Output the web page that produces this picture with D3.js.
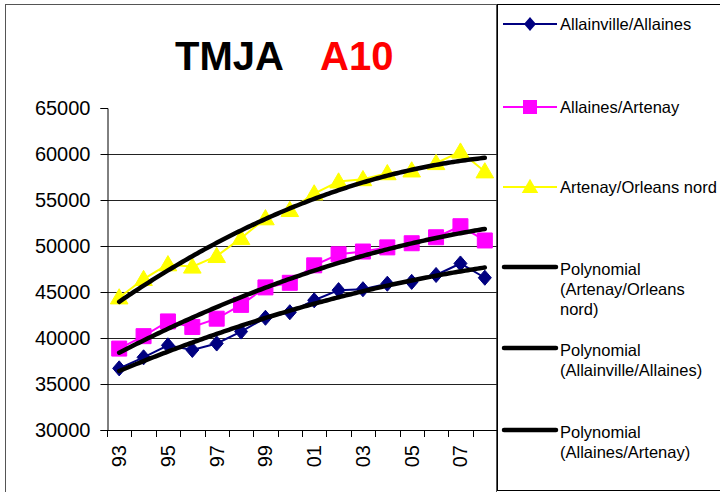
<!DOCTYPE html>
<html>
<head>
<meta charset="utf-8">
<script src="https://cdn.jsdelivr.net/npm/d3@7"></script>
<style>
  html, body { margin: 0; padding: 0; background: #fff; }
  svg { display: block; font-family: "Liberation Sans", Arial, sans-serif; }
</style>
</head>
<body>
<svg id="chart" width="720" height="492"></svg>
<script>
// Annual average daily traffic (TMJA) on the A10 motorway, by section
const years = ["93","94","95","96","97","98","99","00","01","02","03","04","05","06","07","08"];
const allainvilleAllaines = [36700,37900,39200,38700,39400,40700,42200,42800,44100,45200,45300,45900,46100,46850,48100,46550];
const allainesArtenay    = [38850,40200,41800,41200,42100,43600,45500,46000,47900,49100,49400,49850,50300,50950,52150,50600];
const artenayOrleans     = [44400,46400,48000,47750,48900,50850,53000,53900,55700,57000,57250,57900,58200,59000,60250,58100];
const yTicks = [30000,35000,40000,45000,50000,55000,60000,65000];

const series = [
  { name: "Allainville/Allaines", values: allainvilleAllaines, color: "#000080", marker: "diamond" },
  { name: "Allaines/Artenay",     values: allainesArtenay,     color: "#FF00FF", marker: "square" },
  { name: "Artenay/Orleans nord", values: artenayOrleans,      color: "#FFFF00", marker: "triangle" }
];
// trendlines are listed in this order in the legend
const trendOrder = [2, 0, 1];

// second-order least-squares fit over the category index
function quadFit(vals) {
  const n = vals.length;
  let sx=0,sx2=0,sx3=0,sx4=0,sy=0,sxy=0,sx2y=0;
  vals.forEach((y,i) => { const x=i; sx+=x; sx2+=x*x; sx3+=x*x*x; sx4+=x*x*x*x; sy+=y; sxy+=x*y; sx2y+=x*x*y; });
  const A = [[n,sx,sx2,sy],[sx,sx2,sx3,sxy],[sx2,sx3,sx4,sx2y]];
  for (let c=0;c<3;c++){
    for (let r=c+1;r<3;r++){ const f=A[r][c]/A[c][c]; for(let k=c;k<4;k++) A[r][k]-=f*A[c][k]; }
  }
  const b=[0,0,0];
  for (let r=2;r>=0;r--){ let s=A[r][3]; for(let k=r+1;k<3;k++) s-=A[r][k]*b[k]; b[r]=s/A[r][r]; }
  return x => b[0]+b[1]*x+b[2]*x*x;
}

const svg = d3.select("#chart");
const plot = { left: 107, right: 497, top: 108, bottom: 430 };

const x = d3.scaleBand().domain(years).range([plot.left, plot.right]).paddingInner(0).paddingOuter(0);
const y = d3.scaleLinear().domain([30000, 65000]).range([plot.bottom, plot.top]);
const cx = d => x(d) + x.bandwidth() / 2;

// chart frame
svg.append("rect").attr("x", 5.5).attr("y", 4.5).attr("width", 491).attr("height", 492)
  .attr("fill", "#fff").attr("stroke", "#555").attr("stroke-width", 1);

// title
const title = svg.append("text").attr("y", 70).attr("font-weight", "bold").attr("font-size", 40);
title.append("tspan").attr("x", 175).attr("fill", "#000").text("TMJA");
title.append("tspan").attr("x", 320).attr("fill", "#FF0000").text("A10");

// horizontal gridlines
svg.append("g").selectAll("line").data(yTicks.filter(v => v > 30000 && v < 65000)).join("line")
  .attr("x1", plot.left).attr("x2", plot.right)
  .attr("y1", d => Math.round(y(d)) + 0.5).attr("y2", d => Math.round(y(d)) + 0.5)
  .attr("stroke", "#222").attr("stroke-width", 1);

// y axis
const yAxis = svg.append("g").attr("transform", `translate(${plot.left + 0.5},0)`)
  .call(d3.axisLeft(y).tickValues(yTicks).tickSize(7).tickPadding(10).tickFormat(d3.format("d")));
yAxis.select(".domain").attr("stroke", "#000");
yAxis.selectAll(".tick line").attr("stroke", "#000");
yAxis.selectAll("text").attr("font-size", 20).attr("fill", "#000")
  .attr("font-family", "'Liberation Sans', Arial, sans-serif");

// x axis line and tick marks between categories
const xg = svg.append("g");
xg.append("line").attr("x1", plot.left).attr("x2", plot.right)
  .attr("y1", plot.bottom + 0.5).attr("y2", plot.bottom + 0.5).attr("stroke", "#000");
xg.selectAll("line.tk").data(years).join("line").attr("class", "tk")
  .attr("x1", d => Math.round(x(d)) + 0.5).attr("x2", d => Math.round(x(d)) + 0.5)
  .attr("y1", plot.bottom).attr("y2", plot.bottom + 7).attr("stroke", "#000");
xg.selectAll("text").data(years.filter((d, i) => i % 2 === 0)).join("text")
  .attr("transform", d => `translate(${cx(d)},${plot.bottom + 15}) rotate(-90)`)
  .attr("text-anchor", "end").attr("dy", "0.35em")
  .attr("font-size", 20).attr("fill", "#000").text(d => d);

// marker shapes
function markerPath(type, s) {
  if (type === "diamond") return `M0,${-s*0.58}L${s*0.5},0L0,${s*0.58}L${-s*0.5},0Z`;
  if (type === "square") return `M${-s/2},${-s/2}h${s}v${s}h${-s}Z`;
  return `M0,${-s*0.55}L${s*0.55},${s*0.4}L${-s*0.55},${s*0.4}Z`;
}
const markerSize = { diamond: 13, square: 15, triangle: 16 };

const line = d3.line().x((v, i) => cx(years[i])).y(v => y(v));

// data series
series.forEach(s => {
  const g = svg.append("g");
  g.append("path").datum(s.values).attr("d", line)
    .attr("fill", "none").attr("stroke", s.color).attr("stroke-width", 2);
  g.selectAll("path.m").data(s.values).join("path").attr("class", "m")
    .attr("transform", (v, i) => `translate(${cx(years[i])},${y(v)})`)
    .attr("d", markerPath(s.marker, markerSize[s.marker]))
    .attr("fill", s.color).attr("stroke", s.color).attr("stroke-width", 1);
});

// polynomial trendlines
const smooth = d3.line().x(d => d[0]).y(d => d[1]).curve(d3.curveLinear);
series.forEach(s => {
  const f = quadFit(s.values);
  const pts = d3.range(0, years.length - 1 + 1e-9, 0.1).map(t => [cx(years[0]) + t * x.bandwidth(), y(f(t))]);
  svg.append("path").datum(pts).attr("d", smooth)
    .attr("fill", "none").attr("stroke", "#000").attr("stroke-width", 4.5)
    .attr("stroke-linecap", "round").attr("stroke-linejoin", "round");
});

// legend
const lg = svg.append("g");
lg.append("rect").attr("x", 497.5).attr("y", 4.5).attr("width", 240).attr("height", 486)
  .attr("fill", "#fff").attr("stroke", "#000").attr("stroke-width", 1);

const legendFont = 16.5;
const seriesRows = [24, 107, 187];
series.forEach((s, i) => {
  const yy = seriesRows[i];
  lg.append("line").attr("x1", 503).attr("x2", 557).attr("y1", yy).attr("y2", yy)
    .attr("stroke", s.color).attr("stroke-width", 2);
  lg.append("path").attr("transform", `translate(530,${yy})`)
    .attr("d", markerPath(s.marker, markerSize[s.marker] - 1)).attr("fill", s.color);
  lg.append("text").attr("x", 560).attr("y", yy).attr("dy", "0.36em")
    .attr("font-size", legendFont).attr("fill", "#000").text(s.name);
});

const trendLabels = {
  0: ["Polynomial", "(Allainville/Allaines)"],
  1: ["Polynomial", "(Allaines/Artenay)"],
  2: ["Polynomial", "(Artenay/Orleans", "nord)"]
};
const trendRows = [267, 348, 430];
trendOrder.forEach((si, k) => {
  const yy = trendRows[k];
  lg.append("line").attr("x1", 504).attr("x2", 556).attr("y1", yy).attr("y2", yy)
    .attr("stroke", "#000").attr("stroke-width", 4.5).attr("stroke-linecap", "round");
  const t = lg.append("text").attr("font-size", legendFont).attr("fill", "#000");
  trendLabels[si].forEach((ln, j) => {
    t.append("tspan").attr("x", 560).attr("y", yy + 2 + j * 20).attr("dy", "0.36em").text(ln);
  });
});
</script>
</body>
</html>
